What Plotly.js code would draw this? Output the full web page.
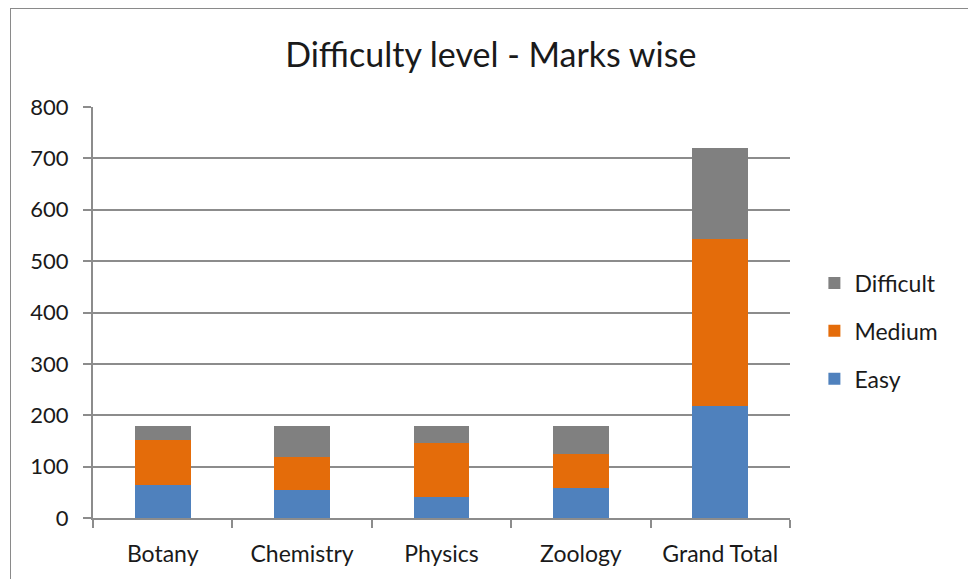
<!DOCTYPE html>
<html>
<head>
<meta charset="utf-8">
<script src="https://cdn.plot.ly/plotly-3.0.1.min.js"></script>
<style>
  html, body { margin: 0; padding: 0; background: #fff; overflow: hidden; }
  #frame { position: absolute; left: 10px; top: 8px; width: 1000px; height: 600px;
           border-left: 1.5px solid #8a8a8a; border-top: 1.5px solid #8a8a8a; pointer-events: none; z-index: 5; }
  #chart { position: absolute; left: 0; top: 0; width: 968px; height: 579px; }
</style>
</head>
<body>
<div id="chart"></div>
<div id="frame"></div>
<script>
const categories = ["Botany", "Chemistry", "Physics", "Zoology", "Grand Total"];
const easy      = [64, 55, 40, 59, 218];
const medium    = [87, 63, 106, 65, 325];
const difficult = [29, 62, 34, 56, 177];
const yTicks = [0, 100, 200, 300, 400, 500, 600, 700, 800];

const font = "Lato, 'Open Sans', 'Liberation Sans', sans-serif";

const traces = [
  { name: "Easy", legendgroup: "e", legendrank: 3, x: categories, y: easy, type: "bar", marker: { color: "#4f81bd" } },
  { name: "Medium", legendgroup: "m", legendrank: 2, x: categories, y: medium, type: "bar", marker: { color: "#e46c0a" } },
  { name: "Difficult", legendgroup: "d", legendrank: 1, x: categories, y: difficult, type: "bar", marker: { color: "#808080" } }
];

const layout = {
  width: 968, height: 579,
  barmode: "stack",
  bargap: 0.6,
  paper_bgcolor: "#fff", plot_bgcolor: "#fff",
  margin: { l: 93, r: 178, t: 107, b: 61 },
  font: { family: font, color: "#1a1a1a" },
  title: { text: "Difficulty level - Marks wise", x: 0.507, xanchor: "center", y: 0.905, yanchor: "middle",
           font: { family: font, size: 34, color: "#1a1a1a" } },
  xaxis: {
    type: "category", tickson: "boundaries", ticks: "outside", ticklen: 8, tickcolor: "#8c8c8c", tickwidth: 2,
    showline: true, linecolor: "#8c8c8c", linewidth: 2, showgrid: false,
    tickfont: { family: font, size: 23, color: "#1a1a1a" }, ticklabelstandoff: 14, fixedrange: true
  },
  yaxis: {
    range: [0, 800], tickvals: yTicks, ticktext: yTicks.map(String),
    ticks: "outside", ticklen: 8, tickcolor: "#8c8c8c", tickwidth: 2,
    showline: true, linecolor: "#8c8c8c", linewidth: 2,
    showgrid: true, gridcolor: "#8c8c8c", gridwidth: 2, zeroline: false,
    tickfont: { family: font, size: 22, color: "#1a1a1a" }, ticklabelstandoff: 10
  },
  legend: {
    x: 1.035, xanchor: "left", y: 0.455, yanchor: "middle",
    traceorder: "grouped", tracegroupgap: 15,
    font: { family: font, size: 23, color: "#1a1a1a" }, itemwidth: 30
  },
  showlegend: true
};

Plotly.newPlot("chart", traces, layout, { staticPlot: true, displayModeBar: false });
</script>
</body>
</html>
